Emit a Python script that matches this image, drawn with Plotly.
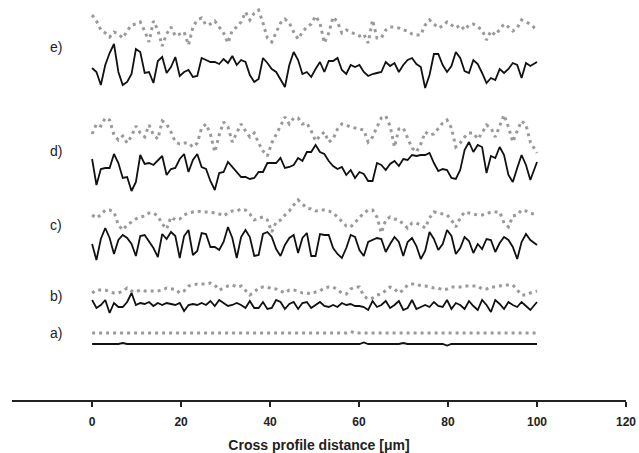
import plotly.graph_objects as go

# sampling positions along the profile (µm)
positions = [round(k * 0.985, 2) for k in range(101)] + [100.0]

# profile heights (arbitrary units)
e_black = [0,-4,-17,3,15,24,-4,-17,-14,-6, 19,16,-5,-4,-15,7,11,-5,1,11,
           -8,-4,-2,-9,-8,10,8,6,6,4, 9,5,12,3,8,6,-7,-14,-11,10,
           5,-1,-4,-11,-19,3,16,8,-6,-4, -9,-1,6,-4,7,7,10,-2,-6,3,
           1,3,-4,-8,-6,-5,-4,6,2,5, -4,3,8,10,4,1,-20,-7,14,14,
           3,-4,2,16,10,-3,-5,8,4,-5, -15,-10,-12,-1,-5,-1,5,3,-10,5, 2, 6]
e_grey = [10,4,-5,-8,-12,-7,-9,-13,-6,0, 1,3,-6,-17,4,-5,-21,-9,-2,-11,
          -9,-7,-20,-2,5,7,0,1,4,-2, -8,-18,-5,-2,3,13,5,12,15,2,
          -13,-17,-7,2,6,2,-7,-14,-7,-2, 1,9,2,-18,-8,8,3,-8,-5,-7,
          -9,-11,-9,-18,5,-13,-13,-5,-2,-2, -3,-5,-6,-9,-10,-10,0,5,1,-3,
          -1,3,0,-3,0,-5,0,1,-2,-5, -15,-6,-10,-5,1,-2,-6,-3,5,3, 1, -5]
d_black = [6,-20,-4,-3,-3,11,2,-13,-12,-26, -17,10,1,2,0,5,9,-10,-4,-3,
           6,11,-7,5,11,-2,-4,-16,-25,-8, -7,3,-2,-7,-12,-12,-14,-13,-7,-7,
           2,2,2,7,-3,-2,0,7,4,13, 13,20,13,11,4,-1,-4,-2,-10,-5,
           -13,-7,-9,-16,-16,2,0,-5,1,4, -1,6,5,10,9,10,10,12,2,-6,
           -4,-5,-13,-14,-5,15,23,13,20,18, -8,9,7,18,10,-10,-17,-3,10,0, -15, 3]
d_grey = [-6,4,2,10,8,-7,-12,-8,-15,-8, 2,-5,-9,3,-7,-11,7,4,-4,-14,
          -16,-15,-15,-19,-15,0,4,-6,-24,-7, 6,1,-14,-5,4,-3,-9,-5,-15,-23,
          -28,-15,-7,2,11,4,10,10,4,5, -3,-13,-8,-4,-14,-11,-1,4,3,1,
          0,-1,-2,-14,-9,1,10,12,2,-19, -1,0,-10,-20,-24,-16,-4,-7,-6,-1,
          5,8,0,-19,-15,-9,-5,-5,-11,-5, 3,0,-9,2,13,1,-14,-3,7,3, -14, -25]
c_black = [1,-15,6,17,7,-9,5,10,7,1, -11,9,10,3,-3,-12,11,6,13,9,
           -13,9,15,-10,-6,12,11,-2,-2,-5, 3,18,7,-13,8,15,8,-11,-10,11,
           13,8,-4,-11,0,7,10,-8,7,12, -11,-11,11,10,10,-3,-9,-13,-3,10,
           8,-5,-11,3,5,7,6,-7,1,8, 3,-11,3,7,-1,-14,-6,13,6,-5,
           1,15,9,-9,-3,8,4,-8,1,-4, 6,5,-7,2,8,5,-2,-14,3,11, 5, 0]
c_grey = [0,-3,0,5,5,3,-10,-15,-10,-7, -4,-2,-1,2,2,-1,-9,-14,-2,-5,
          -4,0,2,3,4,3,3,3,2,1, -1,2,4,4,6,5,1,-5,-3,-2,
          -5,-17,-7,-5,0,4,10,15,11,7, 6,4,5,5,4,2,-2,-7,-11,-12,
          -7,-3,2,5,5,-2,-18,-5,-2,-4, -5,-9,-13,-8,-8,-10,-13,-3,3,2,
          1,0,-5,-12,-3,3,2,1,0,0, 1,3,3,3,-8,-12,-1,0,5,4, 2, 0]
b_black = [3,-5,-2,3,-10,0,-4,-4,1,10, -2,0,-1,1,-3,0,-2,0,-1,-2,
           0,-8,-2,-1,-2,0,-2,2,-3,3, 0,-3,-2,0,-2,-5,2,-5,-5,1,
           -6,-5,3,1,-6,-1,1,-6,0,1, -5,-2,1,-3,-4,-2,-4,0,-2,-1,
           -3,-3,-4,-7,2,-4,-2,2,-5,-2, 2,-7,-5,3,-6,-4,-2,-4,1,-3,
           -4,3,-6,0,-2,-6,2,-3,-7,3, -2,-9,3,-1,-6,1,-2,-4,1,-3, -7, 1]
b_grey = [-3,0,0,0,-2,-3,-3,-1,2,-1, -2,0,-1,-1,-1,-1,0,2,1,1,
          -3,-1,4,5,6,6,6,7,5,0, 2,4,5,3,4,-1,-5,-2,2,3,
          3,1,1,-1,-3,0,0,-1,-3,-3, -4,-2,-1,2,3,3,0,-3,-4,1,
          3,3,-6,-9,-8,-5,-4,0,3,1, -3,0,5,6,6,4,4,3,2,2,
          0,1,3,3,3,4,4,4,4,1, 1,3,3,4,5,5,5,0,-5,-5, -3, -1]
a_grey = [0]*59 + [1.5] + [0]*21 + [0.5] + [0]*20
a_black = [0]*7 + [1] + [0]*54 + [1.5] + [0]*8 + [1] + [0]*9 + [-1.5] + [0]*20

# vertical stacking offsets and label heights
profiles = [
    ("a)", a_black, 56, a_grey, 67, 67),
    ("b)", b_black, 97, b_grey, 110, 104),
    ("c)", c_black, 155, c_grey, 185, 175),
    ("d)", d_black, 235, d_grey, 272, 249),
    ("e)", e_black, 332, e_grey, 375, 353),
]
label_x = -8
x_ticks = [0, 20, 40, 60, 80, 100, 120]

fig = go.Figure()
annotations = []
for name, blk, off_b, gry, off_g, lab_y in profiles:
    fig.add_trace(go.Scatter(
        x=positions, y=[v + off_g for v in gry], mode="lines",
        line=dict(color="#9a9a9a", width=3, dash="3px,4px"),
        showlegend=False, hoverinfo="skip"))
    fig.add_trace(go.Scatter(
        x=positions, y=[v + off_b for v in blk], mode="lines",
        line=dict(color="#111111", width=1.8),
        showlegend=False, hoverinfo="skip"))
    annotations.append(dict(x=label_x, y=lab_y, text=name, showarrow=False,
                            xanchor="center", yanchor="middle",
                            font=dict(family="Liberation Sans, Arial", size=14, color="#222")))

fig.update_layout(
    width=639, height=453,
    margin=dict(l=12, r=13, t=0, b=53),
    paper_bgcolor="white", plot_bgcolor="white",
    annotations=annotations,
    xaxis=dict(range=[-18, 120], showgrid=False, zeroline=False,
               showline=True, linecolor="#222", linewidth=1.5,
               ticks="outside", ticklen=5, tickwidth=1.5, tickcolor="#222",
               tickvals=x_ticks, ticktext=[str(t) for t in x_ticks],
               ticklabeloverflow="allow", ticklabelstandoff=5,
               tickfont=dict(family="Liberation Sans, Arial", size=12, color="#222", weight="bold"),
               title=dict(text="Cross profile distance [μm]", standoff=12,
                          font=dict(family="Liberation Sans, Arial", size=14, color="#222", weight="bold"))),
    yaxis=dict(range=[0, 400], visible=False, showgrid=False, zeroline=False),
)

fig.write_html("out.html", config={"displayModeBar": False},
               post_script="document.body.style.margin='0';document.body.style.overflow='hidden';")
